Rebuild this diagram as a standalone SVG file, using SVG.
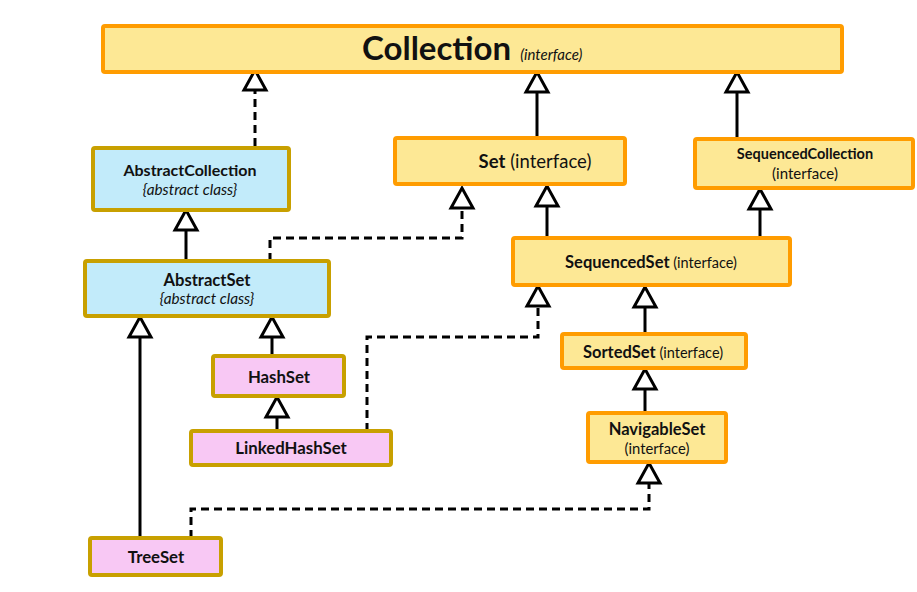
<svg xmlns="http://www.w3.org/2000/svg" width="917" height="592" viewBox="0 0 917 592">
<style>
text{font-family:Lato,"Liberation Sans",sans-serif;fill:#111}
.b{font-weight:bold}
.i{font-style:italic}
.iface rect{fill:#FDE895;stroke:#FF9C00;stroke-width:4}
.abs rect{fill:#C2EBFA;stroke:#C8A000;stroke-width:4}
.cls rect{fill:#F8C8F4;stroke:#C8A000;stroke-width:4}
.c{text-anchor:middle}
#connectors path{fill:none;stroke:#000;stroke-width:3}
#connectors .d{stroke-dasharray:8 5}
</style>
<defs>
<marker id="tri" markerUnits="userSpaceOnUse" viewBox="-2 -13 24 26" markerWidth="24" markerHeight="26" refX="0" refY="0" orient="auto" overflow="visible">
<path d="M0,-11 L20,0 L0,11 Z" fill="#fff" stroke="#000" stroke-width="3" stroke-linejoin="miter" stroke-dasharray="none"/>
</marker>
</defs>
<rect width="917" height="592" fill="#fff"/>
<g id="connectors">
<path class="d" d="M255,146 V90" marker-end="url(#tri)"/>
<path d="M186,261 V230" marker-end="url(#tri)"/>
<path class="d" d="M270,261 V238 H462 V208" marker-end="url(#tri)"/>
<path d="M537,138 V92" marker-end="url(#tri)"/>
<path d="M547,238 V206" marker-end="url(#tri)"/>
<path d="M737,139 V92" marker-end="url(#tri)"/>
<path d="M760,238 V209" marker-end="url(#tri)"/>
<path d="M645,334 V307" marker-end="url(#tri)"/>
<path d="M645,413 V389" marker-end="url(#tri)"/>
<path d="M272,356 V337" marker-end="url(#tri)"/>
<path d="M277,431 V417" marker-end="url(#tri)"/>
<path class="d" d="M367,431 V337 H538 V306" marker-end="url(#tri)"/>
<path d="M140,538 V337" marker-end="url(#tri)"/>
<path class="d" d="M191,538 V509 H649 V483" marker-end="url(#tri)"/>
</g>
<g id="collection" class="iface">
<rect x="103" y="26" width="739" height="46" rx="2"/>
<text x="362" y="60" class="b" font-size="33">Collection<tspan class="i" font-weight="normal" font-size="15" dx="9">(interface)</tspan></text>
</g>
<g id="abstractCollection" class="abs">
<rect x="93" y="148" width="196" height="62" rx="2"/>
<text x="190" y="176" class="b c" font-size="16">AbstractCollection</text>
<text x="190" y="195" class="i c" font-size="15.3">{abstract class}</text>
</g>
<g id="abstractSet" class="abs">
<rect x="85" y="261" width="244" height="55" rx="2"/>
<text x="207" y="286" class="b c" font-size="16.6">AbstractSet</text>
<text x="207" y="304" class="i c" font-size="15.3">{abstract class}</text>
</g>
<g id="set" class="iface">
<rect x="395" y="138" width="230" height="46" rx="2"/>
<text x="535" y="168" class="c" font-size="18.5"><tspan class="b">Set</tspan> (interface)</text>
</g>
<g id="sequencedCollection" class="iface">
<rect x="695" y="139" width="218" height="49" rx="2"/>
<text x="805" y="159" class="b c" font-size="14.5">SequencedCollection</text>
<text x="805" y="179" class="c" font-size="15">(interface)</text>
</g>
<g id="sequencedSet" class="iface">
<rect x="513" y="238" width="277" height="47" rx="2"/>
<text x="651" y="268" class="c" font-size="14.5"><tspan class="b" font-size="16.5">SequencedSet</tspan> (interface)</text>
</g>
<g id="sortedSet" class="iface">
<rect x="562" y="334" width="184" height="34" rx="2"/>
<text x="653" y="358" class="c" font-size="14.5"><tspan class="b" font-size="16.5">SortedSet</tspan> (interface)</text>
</g>
<g id="navigableSet" class="iface">
<rect x="588" y="413" width="138" height="49" rx="2"/>
<text x="657" y="435" class="b c" font-size="16.5">NavigableSet</text>
<text x="657" y="454" class="c" font-size="14.8">(interface)</text>
</g>
<g id="hashSet" class="cls">
<rect x="213" y="356" width="131" height="40" rx="2"/>
<text x="279" y="383" class="b c" font-size="16.8">HashSet</text>
</g>
<g id="linkedHashSet" class="cls">
<rect x="191" y="431" width="200" height="34" rx="2"/>
<text x="291" y="454" class="b c" font-size="16.8">LinkedHashSet</text>
</g>
<g id="treeSet" class="cls">
<rect x="90" y="538" width="131" height="37" rx="2"/>
<text x="156" y="563" class="b c" font-size="16.8">TreeSet</text>
</g>
</svg>
